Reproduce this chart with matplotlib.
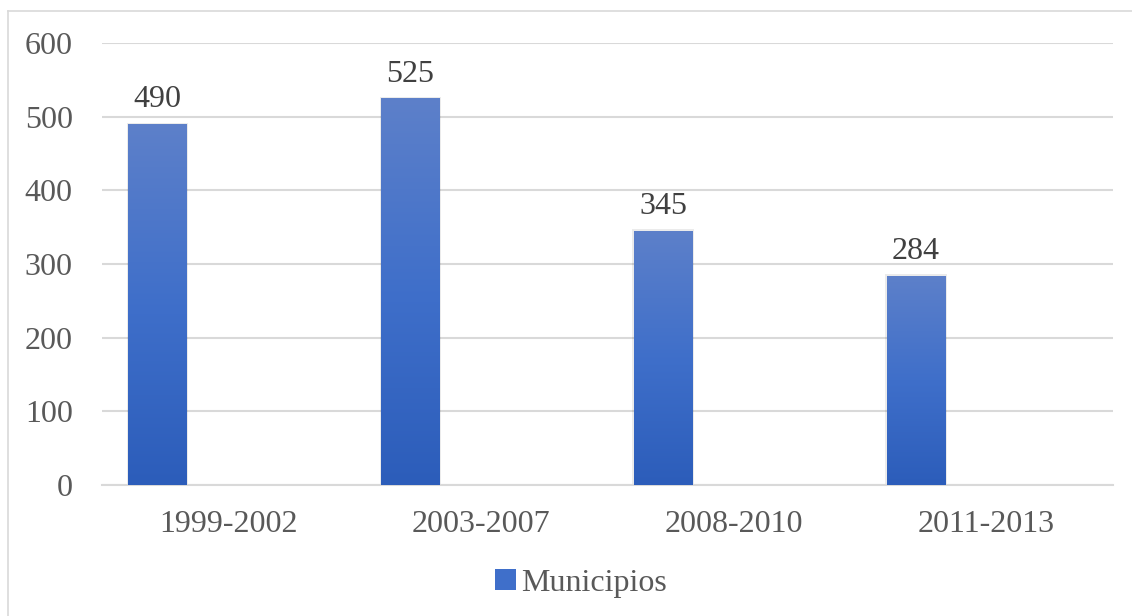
import matplotlib.pyplot as plt
import numpy as np
from matplotlib.colors import LinearSegmentedColormap
from matplotlib.lines import Line2D
from matplotlib.patches import Patch

periods = ["1999-2002", "2003-2007", "2008-2010", "2011-2013"]
municipios = [490, 525, 345, 284]
yticks = [0, 100, 200, 300, 400, 500, 600]

plt.rcParams["font.family"] = ["Liberation Serif", "DejaVu Serif"]

fig = plt.figure(figsize=(11.32, 6.16), dpi=100)
ax = fig.add_axes([0.0901, 0.2127, 0.8931, 0.7175])

# frame of the chart area (only top and left edges visible in the crop)
fig.add_artist(Line2D([8 / 1132, 8 / 1132], [0, 1 - 11 / 616],
                      transform=fig.transFigure, color="#d9d9d9", lw=1.2))
fig.add_artist(Line2D([8 / 1132, 1], [1 - 11 / 616, 1 - 11 / 616],
                      transform=fig.transFigure, color="#d9d9d9", lw=1.2))

x = np.arange(len(periods))
offset = -0.28
width = 0.232

cmap = LinearSegmentedColormap.from_list("blue_grad", ["#2c5dba", "#3f6fca", "#5d80c9"])
grad = np.linspace(0, 1, 256).reshape(-1, 1)

bars = ax.bar(x + offset, municipios, width, color="none", zorder=3)
for b, v in zip(bars, municipios):
    x0 = b.get_x()
    # soft shadow
    ax.add_patch(plt.Rectangle((x0 - 0.006, 0), b.get_width() + 0.012, v + 2,
                               color="#000000", alpha=0.08, lw=0, zorder=2))
    im = ax.imshow(grad, extent=[x0, x0 + b.get_width(), 0, v], origin="lower",
                   cmap=cmap, aspect="auto", zorder=3)
    im.set_clip_path(b)
    ax.text(b.get_x() + b.get_width() / 2, v + 13, str(v), ha="center", va="bottom",
            fontsize=23, color="#404040", zorder=4)

ax.set_xlim(-0.5, len(periods) - 0.5)
ax.set_ylim(0, 600)
ax.set_yticks(yticks)
ax.set_xticks(x)
ax.set_xticklabels(periods)
ax.tick_params(axis="both", length=0, labelsize=23, colors="#595959")
ax.tick_params(axis="y", pad=21)
ax.tick_params(axis="x", pad=18)

ax.grid(axis="y", color="#d9d9d9", lw=1.5, zorder=0)
ax.set_axisbelow(True)
for s in ["top", "right", "left"]:
    ax.spines[s].set_visible(False)
ax.spines["bottom"].set_color("#d9d9d9")
ax.spines["bottom"].set_linewidth(1.5)

handle = Patch(facecolor="#3f6fca", edgecolor="none")
fig.legend([handle], ["Municipios"], loc="center", bbox_to_anchor=(581 / 1132, 1 - 583 / 616),
           frameon=False, fontsize=23, labelcolor="#595959", handlelength=0.65,
           handleheight=0.65, handletextpad=0.15)

fig.savefig("out.png", dpi=100)
